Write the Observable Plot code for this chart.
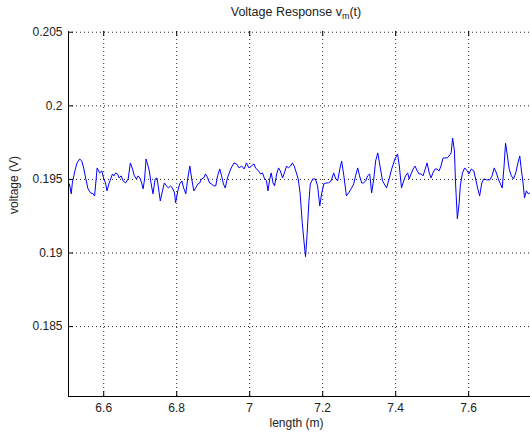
<!DOCTYPE html>
<html><head><meta charset="utf-8">
<script src="https://cdn.jsdelivr.net/npm/d3@7"></script>
<script src="https://cdn.jsdelivr.net/npm/@observablehq/plot@0.6"></script>
<style>body{margin:0;background:#fff}svg{display:block}</style>
</head><body><div id="chart"></div>
<script>
const lengthM = [
  6.506,6.511,6.514,6.521,6.527,6.534,6.540,6.545,6.551,6.557,6.564,6.571,6.575,6.582,6.589,6.595,6.600,6.605,6.609,6.614,6.619,6.624,6.628,6.633,6.638,6.642,6.648,6.653,6.660,6.667,6.673,6.679,6.684,6.690,6.694,6.699,6.704,6.708,6.712,6.716,
  6.720,6.725,6.730,6.735,6.741,6.746,6.752,6.755,6.761,6.766,6.772,6.777,6.783,6.788,6.794,6.797,6.803,6.808,6.814,6.819,6.825,6.830,6.836,6.841,6.847,6.852,6.858,6.863,6.868,6.874,6.879,6.885,6.890,6.896,6.901,6.907,6.912,6.918,6.923,6.928,6.933,
  6.939,6.948,6.957,6.964,6.971,6.978,6.985,6.991,6.998,7.005,7.012,7.016,7.024,7.030,7.035,7.040,7.046,7.050,7.055,7.059,7.064,7.068,7.074,7.079,7.084,7.090,7.095,7.101,7.106,7.112,7.117,7.122,7.128,7.133,7.138,
  7.144,7.148,7.153,7.157,7.162,7.166,7.173,7.180,7.186,7.192,7.197,7.203,7.209,7.216,7.223,7.230,7.236,7.241,7.247,7.252,7.258,7.265,7.271,7.278,7.285,7.290,7.296,7.301,7.307,7.312,7.318,7.323,7.329,7.334,7.340,7.345,7.351,
  7.357,7.364,7.375,7.382,7.389,7.398,7.405,7.410,7.416,7.422,7.427,7.433,7.437,7.442,7.448,7.453,7.459,7.464,7.470,7.475,7.481,7.486,7.492,7.497,7.502,7.508,7.513,7.519,7.524,7.530,7.535,7.541,7.546,7.552,7.556,7.561,7.564,7.569,
  7.574,7.577,7.583,7.589,7.596,7.601,7.607,7.614,7.619,7.625,7.630,7.636,7.641,7.649,7.658,7.664,7.670,7.676,7.681,7.687,7.692,7.697,7.701,7.705,7.711,7.717,7.723,7.729,7.735,7.740,7.744,7.749,7.753,7.758,7.763,7.767,7.775
];
const voltage = [
  0.19469,0.19402,0.19476,0.19558,0.19612,0.19639,0.19625,0.19578,0.19503,0.19436,0.19408,0.19402,0.19388,0.19578,0.19544,0.19558,0.19503,0.19476,0.19422,0.19469,0.19503,0.19537,0.19524,0.19544,0.19537,0.19510,0.19524,0.19490,0.19476,0.19503,0.19612,0.19571,0.19524,0.19503,0.19524,0.19510,0.19476,0.19436,0.19503,0.19639,
  0.19605,0.19558,0.19469,0.19402,0.19503,0.19510,0.19408,0.19354,0.19422,0.19476,0.19456,0.19442,0.19456,0.19442,0.19408,0.19341,0.19422,0.19469,0.19490,0.19442,0.19402,0.19503,0.19591,0.19503,0.19422,0.19442,0.19469,0.19476,0.19503,0.19510,0.19537,0.19510,0.19476,0.19469,0.19456,0.19456,0.19524,0.19571,0.19524,0.19469,0.19442,
  0.19510,0.19571,0.19612,0.19605,0.19578,0.19591,0.19571,0.19612,0.19578,0.19591,0.19605,0.19578,0.19558,0.19537,0.19544,0.19510,0.19490,0.19422,0.19503,0.19544,0.19476,0.19456,0.19537,0.19578,0.19558,0.19510,0.19544,0.19591,0.19578,0.19591,0.19612,0.19591,0.19544,0.19503,0.19408,
  0.19205,0.19097,0.18975,0.19117,0.19341,0.19469,0.19503,0.19503,0.19456,0.19320,0.19402,0.19469,0.19476,0.19476,0.19490,0.19544,0.19503,0.19490,0.19571,0.19625,0.19524,0.19388,0.19408,0.19436,0.19469,0.19524,0.19578,0.19524,0.19476,0.19476,0.19490,0.19524,0.19537,0.19408,0.19503,0.19625,0.19680,
  0.19591,0.19490,0.19442,0.19503,0.19571,0.19639,0.19673,0.19591,0.19442,0.19490,0.19524,0.19544,0.19503,0.19537,0.19571,0.19591,0.19558,0.19537,0.19537,0.19524,0.19571,0.19612,0.19544,0.19510,0.19544,0.19571,0.19571,0.19558,0.19591,0.19646,0.19646,0.19646,0.19659,0.19680,0.19781,0.19693,0.19476,0.19232,
  0.19341,0.19456,0.19544,0.19578,0.19558,0.19537,0.19571,0.19558,0.19503,0.19436,0.19388,0.19476,0.19503,0.19497,0.19497,0.19524,0.19578,0.19544,0.19503,0.19469,0.19442,0.19591,0.19747,0.19680,0.19571,0.19524,0.19503,0.19544,0.19612,0.19659,0.19571,0.19476,0.19375,0.19422,0.19402,0.19408,0.19422
];
const xTicks = [6.6, 6.8, 7, 7.2, 7.4, 7.6];
const yTicks = [0.185, 0.19, 0.195, 0.2, 0.205];
const xDomain = [6.5035, 7.7694];
const yDomain = [0.18025, 0.20505];
const titleMain = "Voltage Response v", titleSub = "m", titleEnd = "(t)";
const xLabel = "length (m)", yLabel = "voltage (V)";

const data = lengthM.map((x, i) => ({x, v: voltage[i]}));
const fmt = d => String(+d.toFixed(4));
const grid = {stroke: "#000", strokeOpacity: 0.85, strokeDasharray: "1,3"};
const W = 530, H = 439, mL = 68, mR = 0, mT = 31, mB = 43;
const fw = W - mL - mR, fh = H - mT - mB;
const font = "'Liberation Sans', Arial, Helvetica, sans-serif";

const chart = Plot.plot({
  width: W, height: H, marginLeft: mL, marginRight: mR, marginTop: mT, marginBottom: mB,
  style: {fontFamily: font, fontSize: "12px", background: "#fff", color: "#222"},
  x: {domain: xDomain},
  y: {domain: yDomain},
  marks: [
    Plot.ruleX(xTicks, grid),
    Plot.ruleY(yTicks, grid),
    Plot.line(data, {x: "x", y: "v", stroke: "#0000ff", strokeWidth: 1}),
    Plot.ruleX([xDomain[0]], {stroke: "#000"}),
    Plot.ruleY([yDomain[0]], {stroke: "#000"}),
    Plot.ruleX(xTicks, {stroke: "#000", insetTop: fh - 5}),
    Plot.ruleX(xTicks, {stroke: "#000", insetBottom: fh - 5}),
    Plot.ruleY(yTicks, {stroke: "#000", insetRight: fw - 5}),
    Plot.axisX(xTicks, {anchor: "bottom", tickSize: 0, tickPadding: 7, tickFormat: fmt, label: null}),
    Plot.axisY(yTicks, {anchor: "left", tickSize: 0, tickPadding: 6, tickFormat: fmt, label: null}),
    Plot.text([xLabel], {frameAnchor: "bottom", dy: 30, dx: -3, fontSize: 12, fill: "#222"}),
    Plot.text([yLabel], {frameAnchor: "left", dx: -54, rotate: -90, fontSize: 12, fill: "#222"})
  ]
});
document.getElementById("chart").appendChild(chart);

const t = d3.select(chart).append("text")
  .attr("x", 296).attr("y", 16)
  .attr("text-anchor", "middle")
  .attr("font-family", font).attr("font-size", 12.5).attr("fill", "#222");
t.append("tspan").text(titleMain);
t.append("tspan").attr("font-size", 9).attr("dy", 3).text(titleSub);
t.append("tspan").attr("dy", -3).text(titleEnd);
</script>
</body></html>
